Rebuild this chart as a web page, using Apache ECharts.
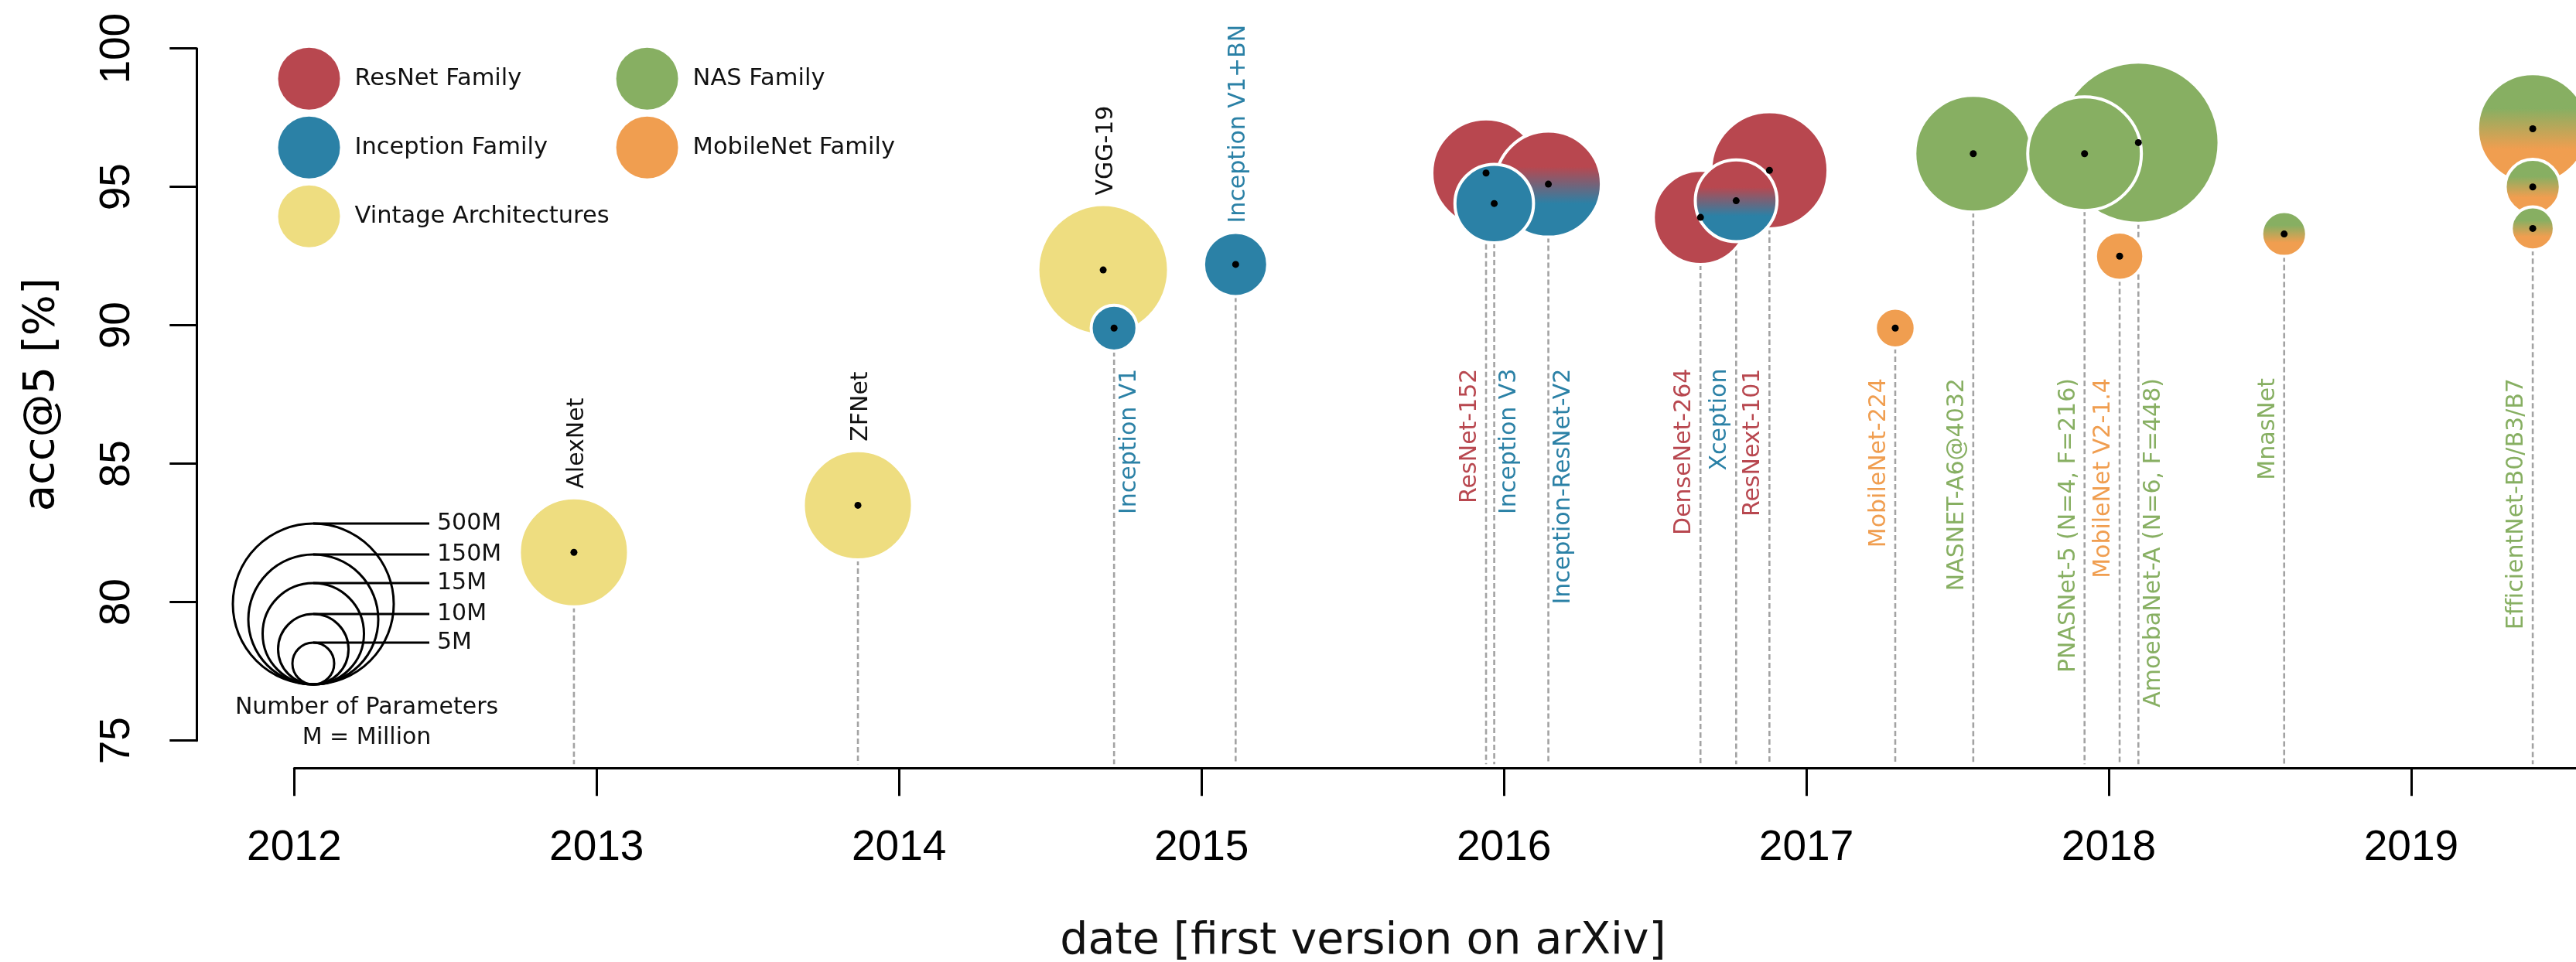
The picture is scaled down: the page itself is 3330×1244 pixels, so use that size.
<!DOCTYPE html>
<html>
<head>
<meta charset="utf-8">
<script src="https://cdn.jsdelivr.net/npm/echarts@6/dist/echarts.min.js"></script>
<style>
  html, body { margin: 0; padding: 0; background: #ffffff; }
  #chart { width: 3330px; height: 1244px; }
</style>
</head>
<body>
<div id="chart"></div>
<script>
// ---- Data: ImageNet models by first arXiv version ----
const models = [
  'AlexNet', 'ZFNet', 'VGG-19', 'Inception V1', 'Inception V1+BN',
  'ResNet-152', 'Inception V3', 'Inception-ResNet-V2', 'DenseNet-264', 'Xception',
  'ResNext-101', 'MobileNet-224', 'NASNET-A6@4032', 'PNASNet-5 (N=4, F=216)', 'MobileNet V2-1.4',
  'AmoebaNet-A (N=6, F=448)', 'MnasNet', 'EfficientNet-B7', 'EfficientNet-B3', 'EfficientNet-B0'
];
// first arXiv version, as fractional year
const arxivDate = [
  2012.925, 2013.864, 2014.675, 2014.711, 2015.113,
  2015.941, 2015.968, 2016.147, 2016.650, 2016.768,
  2016.878, 2017.294, 2017.552, 2017.920, 2018.036,
  2018.098, 2018.580, 2019.402, 2019.402, 2019.402
];
// top-5 accuracy [%]
const top5Acc = [
  81.8, 83.5, 92.0, 89.9, 92.2,
  95.5, 94.4, 95.1, 93.9, 94.5,
  95.6, 89.9, 96.2, 96.2, 92.5,
  96.6, 93.3, 97.1, 95.0, 93.5
];
// number of parameters [millions]
const paramsM = [
  65, 65, 147, 5.9, 11.8,
  63, 20.4, 57.6, 37, 23,
  88, 4.7, 87, 77, 6.5,
  469, 5.7, 68, 8.4, 5.3
];
const families = [
  'vintage', 'vintage', 'vintage', 'inception', 'inception',
  'resnet', 'inception', 'resnet-inception', 'resnet', 'resnet-inception',
  'resnet', 'mobilenet', 'nas', 'nas', 'mobilenet',
  'nas', 'nas-mobilenet', 'nas-mobilenet', 'nas-mobilenet', 'nas-mobilenet'
];
const yearTicks = [2012, 2013, 2014, 2015, 2016, 2017, 2018, 2019];
const legendNames = ['ResNet Family', 'Inception Family', 'Vintage Architectures', 'NAS Family', 'MobileNet Family'];
const legendFamilies = ['resnet', 'inception', 'vintage', 'nas', 'mobilenet'];
const keyLabels = ['500M', '150M', '15M', '10M', '5M'];

// ---- Styling ----
const COLORS = {
  resnet: '#B8474F',
  inception: '#2B81A6',
  vintage: '#EEDD80',
  nas: '#87AF62',
  mobilenet: '#F09E50'
};
const TEXT_DARK = '#111111';
const FONT_LABEL = '"DejaVu Sans"';

// bubble radius (px) grows with the log of the parameter count
const SIZE_SLOPE = 17.06;
const SIZE_OFFSET = -0.65;
function radiusPx(p) { return SIZE_SLOPE * Math.log(p) + SIZE_OFFSET; }

function vGradient(c1, c2, s1, s2) {
  return new echarts.graphic.LinearGradient(0, 0, 0, 1, [
    { offset: 0, color: c1 }, { offset: s1, color: c1 },
    { offset: s2, color: c2 }, { offset: 1, color: c2 }
  ]);
}
function fillFor(fam) {
  if (fam === 'resnet-inception') return vGradient(COLORS.resnet, COLORS.inception, 0.34, 0.68);
  if (fam === 'nas-mobilenet') return vGradient(COLORS.nas, COLORS.mobilenet, 0.32, 0.68);
  return COLORS[fam];
}
function labelColorFor(fam) {
  if (fam === 'vintage') return TEXT_DARK;
  if (fam === 'resnet-inception') return COLORS.inception;
  if (fam === 'nas-mobilenet') return COLORS.nas;
  return COLORS[fam];
}

// where each model's name goes relative to its bubble / drop line
const labelSide = {
  'AlexNet': 'above', 'ZFNet': 'above', 'VGG-19': 'above', 'Inception V1+BN': 'above',
  'Inception V1': 'right', 'ResNet-152': 'left', 'Inception V3': 'right', 'Inception-ResNet-V2': 'right',
  'DenseNet-264': 'left', 'Xception': 'left', 'ResNext-101': 'left', 'MobileNet-224': 'left',
  'NASNET-A6@4032': 'left', 'PNASNet-5 (N=4, F=216)': 'left', 'MobileNet V2-1.4': 'left',
  'AmoebaNet-A (N=6, F=448)': 'right', 'MnasNet': 'left', 'EfficientNet-B0': 'left'
};
const labelTextFor = { 'EfficientNet-B0': 'EfficientNet-B0/B3/B7' };
const gradientLabel = { 'EfficientNet-B0': true };
const noDropLine = { 'VGG-19': true, 'EfficientNet-B7': true, 'EfficientNet-B3': true };
const LABEL_END_EARLY = 88.44;  // end of the rotated names, models before 2017
const LABEL_END_LATE = 88.09;   // end of the rotated names, models from 2017 on
const DROP_FLOOR = 74.15;       // drop lines stop just above the date axis

function hex2rgb(h) { return [1, 3, 5].map(k => parseInt(h.slice(k, k + 2), 16)); }
function gradientRich(text, c1, c2, from, to) {
  const a = hex2rgb(c1), b = hex2rgb(c2);
  const rich = {};
  let s = '';
  const n = text.length;
  for (let k = 0; k < n; k++) {
    const t = Math.min(1, Math.max(0, (k / (n - 1) - from) / (to - from)));
    const c = a.map((v, j) => Math.round(v + (b[j] - v) * t));
    rich['g' + k] = { color: 'rgb(' + c.join(',') + ')', fontFamily: 'DejaVu Sans', fontSize: 30 };
    s += '{g' + k + '|' + text[k] + '}';
  }
  return { text: s, rich: rich };
}

// bubbles drawn largest first so smaller ones sit on top
const order = models.map((m, i) => i).sort((a, b) => paramsM[b] - paramsM[a]);
const bubbleData = order.map(i => ({
  name: models[i],
  value: [arxivDate[i], top5Acc[i], paramsM[i]],
  itemStyle: { color: fillFor(families[i]) }
}));
const centerData = models.map((m, i) => [arxivDate[i], top5Acc[i]]);
const annotData = models.map((m, i) => [arxivDate[i], top5Acc[i], paramsM[i], i]);

function renderAnnotation(params, api) {
  const i = api.value(3);
  const name = models[i];
  const c = api.coord([api.value(0), api.value(1)]);
  const r = radiusPx(api.value(2));
  const children = [];
  if (!noDropLine[name]) {
    const floor = api.coord([api.value(0), DROP_FLOOR]);
    children.push({
      type: 'line',
      shape: { x1: c[0], y1: c[1] + r, x2: c[0], y2: floor[1] },
      style: { stroke: '#a3a3a3', lineWidth: 2.6, lineDash: [7, 4] }
    });
  }
  const side = labelSide[name];
  if (side) {
    const txt = labelTextFor[name] || name;
    let style = { text: txt, fill: labelColorFor(families[i]), font: '30px ' + FONT_LABEL };
    if (gradientLabel[name]) {
      const g = gradientRich(txt, COLORS.nas, COLORS.mobilenet, 0.55, 0.85);
      style = { text: g.text, rich: g.rich, fill: COLORS.nas, font: '30px ' + FONT_LABEL };
    }
    let x, y;
    if (side === 'above') {
      x = c[0] + 4;
      y = c[1] - r - 12;
      style.align = 'left';
    } else {
      const endAcc = api.value(0) < 2017 ? LABEL_END_EARLY : LABEL_END_LATE;
      y = api.coord([api.value(0), endAcc])[1];
      x = c[0] + (side === 'left' ? -21 : 20);
      style.align = 'right';
    }
    style.verticalAlign = 'middle';
    children.push({ type: 'text', x: x, y: y, rotation: Math.PI / 2, style: style });
  }
  return { type: 'group', children: children };
}

// ---- Size key (number of parameters) ----
const KEY_CX = 405, KEY_BOTTOM = 885, KEY_LINE_END = 555, KEY_TEXT_X = 565;
const keyRadii = [104, 84, 65.5, 45.5, 27];
const keyElements = [];
keyLabels.forEach((lab, k) => {
  const r = keyRadii[k];
  const top = KEY_BOTTOM - 2 * r;
  keyElements.push({
    type: 'circle', shape: { cx: KEY_CX, cy: KEY_BOTTOM - r, r: r },
    style: { fill: 'none', stroke: '#000', lineWidth: 3 }
  });
  keyElements.push({
    type: 'line', shape: { x1: KEY_CX, y1: top, x2: KEY_LINE_END, y2: top },
    style: { stroke: '#000', lineWidth: 3 }
  });
  keyElements.push({
    type: 'text', x: KEY_TEXT_X, y: top,
    style: { text: lab, font: '30px ' + FONT_LABEL, fill: TEXT_DARK,
             align: 'left', verticalAlign: 'middle', textAlign: 'left', textVerticalAlign: 'middle' }
  });
});
['Number of Parameters', 'M = Million'].forEach((t, k) => {
  keyElements.push({
    type: 'text', x: 474, y: k === 0 ? 915 : 954,
    style: { text: t, font: '30px ' + FONT_LABEL, fill: TEXT_DARK,
             align: 'center', verticalAlign: 'middle', textAlign: 'center', textVerticalAlign: 'middle' }
  });
});
// date axis title
keyElements.push({
  type: 'text', x: 1762, y: 1218,
  style: { text: 'date [first version on arXiv]', font: '57px ' + FONT_LABEL, fill: TEXT_DARK,
           align: 'center', verticalAlign: 'middle', textAlign: 'center', textVerticalAlign: 'middle' }
});

const chart = echarts.init(document.getElementById('chart'), null, { renderer: 'canvas', devicePixelRatio: 1 });

const legendSeries = legendNames.map((n, k) => ({
  name: n, type: 'scatter', data: [],
  itemStyle: { color: COLORS[legendFamilies[k]], opacity: 1 }
}));

// date axis runs on past the right edge of the canvas
const X_MIN = 2012, X_MAX = 2019.545;

chart.setOption({
  animation: false,
  backgroundColor: '#ffffff',
  grid: { left: 380.3, top: 62.7, right: 0, height: 895 },
  legend: {
    data: legendNames,
    orient: 'vertical',
    left: 359.5, top: 61.7, height: 300,
    padding: 0,
    itemWidth: 80, itemHeight: 80, itemGap: 9,
    icon: 'circle',
    selectedMode: false,
    itemStyle: { opacity: 1 },
    textStyle: { fontFamily: 'DejaVu Sans', fontSize: 30.5, color: TEXT_DARK, padding: [0, 0, 0, 14] }
  },
  xAxis: {
    type: 'value', min: X_MIN, max: X_MAX, interval: 1, offset: 35.6,
    axisLine: { show: true, onZero: false, lineStyle: { color: '#000', width: 3 } },
    axisTick: { show: true, length: 36, customValues: yearTicks, lineStyle: { color: '#000', width: 3 } },
    axisLabel: { margin: 76, fontFamily: 'Liberation Sans', fontSize: 55, color: '#000',
                 customValues: yearTicks, formatter: v => String(v) },
    splitLine: { show: false }
  },
  yAxis: {
    type: 'value', min: 75, max: 100, interval: 5, offset: 126,
    axisLine: { show: true, lineStyle: { color: '#000', width: 3 } },
    axisTick: { show: true, length: 35, lineStyle: { color: '#000', width: 3 } },
    axisLabel: { rotate: 90, margin: 75, fontFamily: 'Liberation Sans', fontSize: 55, color: '#000' },
    splitLine: { show: false },
    name: 'acc@5 [%]', nameLocation: 'middle', nameRotate: 90, nameGap: 172,
    nameTextStyle: { fontFamily: 'DejaVu Sans', fontSize: 56, color: '#000' }
  },
  graphic: { elements: keyElements },
  series: legendSeries.concat([
    {
      name: 'annotations', type: 'custom', z: 1, silent: true,
      renderItem: renderAnnotation,
      data: annotData
    },
    {
      name: 'models', type: 'scatter', z: 2, silent: true, clip: false,
      symbol: 'circle',
      symbolSize: v => 2 * radiusPx(v[2]),
      itemStyle: { borderColor: '#ffffff', borderWidth: 4, opacity: 1 },
      emphasis: { disabled: true },
      data: bubbleData
    },
    {
      name: 'centers', type: 'scatter', z: 3, silent: true, clip: false,
      symbol: 'circle', symbolSize: 9,
      itemStyle: { color: '#000000', opacity: 1 },
      emphasis: { disabled: true },
      data: centerData
    }
  ])
});
</script>
</body>
</html>
